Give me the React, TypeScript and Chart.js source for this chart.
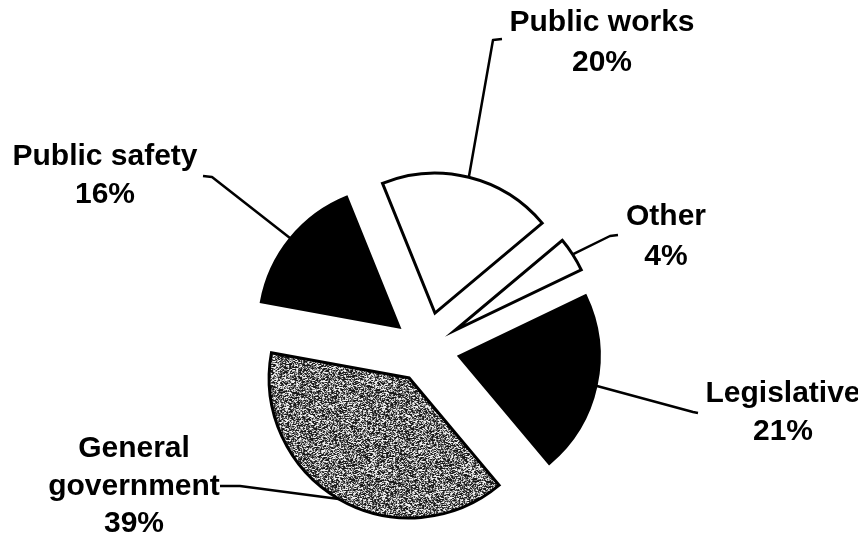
import React, { useEffect, useRef } from "react";
import { Chart, registerables } from "chart.js";

Chart.register(...registerables);

// ---- data ----
const categories = ["Public works", "Other", "Legislative", "General government", "Public safety"];
const shares = [20, 4, 21, 39, 16];
const labelLines = [["Public works"], ["Other"], ["Legislative"], ["General", "government"], ["Public safety"]];

// ---- style / layout (canvas coordinates) ----
const explode = [148, 138, 136, 134, 139];
const sliceFill = ["#ffffff", "#ffffff", "#000000", "pattern", "#000000"];
const labelCenterX = [594, 658, 775, 126, 97];
const labelFirstBaseline = [23, 217, 394, 449, 157];
const labelLineHeight = [40, 40, 38, 37.5, 38];
const leaderElbows: number[][][] = [
  [[485, 32], [494, 31]],
  [[602, 228], [610, 227]],
  [[685, 404], [690, 405]],
  [[232, 478], [212, 478]],
  [[204, 169], [195, 168]],
];
const RADIUS = 140;
const FONT = "bold 30px 'Liberation Sans', Arial, Helvetica, sans-serif";
const W = 858;
const H = 531;

function makeStipple(): CanvasPattern | string {
  const c = document.createElement("canvas");
  c.width = 97;
  c.height = 89;
  const g = c.getContext("2d");
  if (!g) return "#808080";
  const img = g.createImageData(c.width, c.height);
  for (let y = 0; y < c.height; y++) {
    for (let x = 0; x < c.width; x++) {
      let h = Math.imul(x + 17, 374761393) ^ Math.imul(y + 31, 668265263);
      h = Math.imul(h ^ (h >>> 13), 1274126177);
      h = (h ^ (h >>> 16)) >>> 0;
      const v = (h & 1023) / 1023;
      const val = v < 0.42 ? 25 : v < 0.68 ? 125 : 240;
      const i = (y * c.width + x) * 4;
      img.data[i] = val;
      img.data[i + 1] = val;
      img.data[i + 2] = val;
      img.data[i + 3] = 255;
    }
  }
  g.putImageData(img, 0, 0);
  const ctx = document.createElement("canvas").getContext("2d");
  return (ctx && ctx.createPattern(c, "repeat")) || "#808080";
}

// Chart.js grows small exploded arcs (radius and angle); undo that so every slice keeps its true size.
const explodeFix = {
  id: "explodeFix",
  afterDatasetUpdate(chart: any, args: any) {
    const meta = args.meta;
    meta.data.forEach((arc: any, i: number) => {
      const off = (explode[i] || 0) / 4;
      const circ = arc.endAngle - arc.startAngle;
      const fix = 1 - Math.sin(Math.min(Math.PI, circ));
      const radiusOffset = off * fix;
      arc.outerRadius = RADIUS - radiusOffset;
      const angleOffset = radiusOffset / (2 * Math.PI * RADIUS);
      arc.startAngle -= angleOffset;
      arc.endAngle += angleOffset;
    });
  },
};

const labelPlugin = {
  id: "sliceLabels",
  afterDatasetsDraw(chart: any) {
    const ctx = chart.ctx as CanvasRenderingContext2D;
    const meta = chart.getDatasetMeta(0);
    ctx.save();
    meta.data.forEach((arc: any, i: number) => {
      const mid = (arc.startAngle + arc.endAngle) / 2;
      const d = (explode[i] || 0) / 4 + RADIUS;
      const sx = arc.x + Math.cos(mid) * d;
      const sy = arc.y + Math.sin(mid) * d;
      ctx.beginPath();
      ctx.moveTo(sx, sy);
      leaderElbows[i].forEach((p) => ctx.lineTo(p[0], p[1]));
      ctx.strokeStyle = "#000";
      ctx.lineWidth = 2.5;
      ctx.lineJoin = "round";
      ctx.stroke();

      ctx.fillStyle = "#000";
      ctx.font = FONT;
      ctx.textAlign = "center";
      ctx.textBaseline = "alphabetic";
      const lines = [...labelLines[i], `${shares[i]}%`];
      lines.forEach((t, k) => {
        ctx.fillText(t, labelCenterX[i], labelFirstBaseline[i] + k * labelLineHeight[i]);
      });
    });
    ctx.restore();
  },
};

export default function App() {
  const ref = useRef<HTMLCanvasElement | null>(null);
  useEffect(() => {
    if (!ref.current) return;
    const stipple = makeStipple();
    const chart = new Chart(ref.current, {
      type: "pie",
      data: {
        labels: categories,
        datasets: [
          {
            data: shares,
            backgroundColor: sliceFill.map((c) => (c === "pattern" ? stipple : c)) as any,
            borderColor: "#000",
            borderWidth: 3,
            borderJoinStyle: "miter",
            offset: explode,
            clip: false as any,
          },
        ],
      },
      options: {
        animation: false,
        responsive: false,
        rotation: -22,
        radius: RADIUS,
        layout: { padding: { left: 0, right: 22, top: 151, bottom: 0 } },
        plugins: { legend: { display: false }, tooltip: { enabled: false } },
        events: [],
      },
      plugins: [explodeFix, labelPlugin],
    });
    return () => chart.destroy();
  }, []);
  return (
    <div style={{ width: W, height: H, background: "#fff" }}>
      <canvas ref={ref} width={W} height={H} style={{ display: "block" }} />
    </div>
  );
}
